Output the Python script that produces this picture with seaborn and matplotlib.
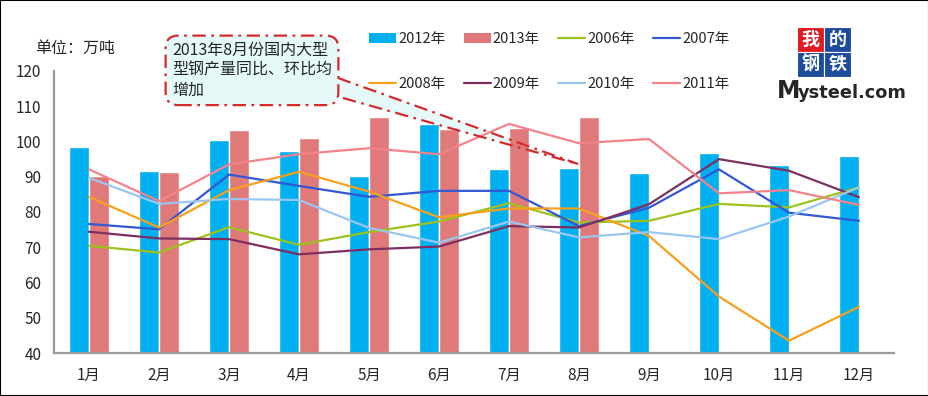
import numpy as np
import pandas as pd
import seaborn as sns
import matplotlib.pyplot as plt
from matplotlib.patches import Patch, Polygon, Rectangle
from matplotlib.lines import Line2D
from matplotlib.transforms import Affine2D

# Monthly output of large section steel, 10k tonnes
months = ['1月', '2月', '3月', '4月', '5月', '6月', '7月', '8月', '9月', '10月', '11月', '12月']
y2012 = [98.5, 91.6, 100.4, 97.3, 90.2, 105.0, 92.2, 92.5, 91.2, 96.7, 93.3, 96.0]
y2013 = [90.2, 91.3, 103.3, 101.1, 107.0, 103.5, 103.7, 107.0]
y2006 = [70.4, 68.5, 75.7, 70.7, 74.3, 77.3, 82.5, 77.0, 77.5, 82.3, 81.3, 87.0]
y2007 = [76.6, 75.1, 90.6, 87.4, 84.3, 86.0, 86.0, 76.0, 81.2, 92.1, 79.8, 77.5]
y2008 = [84.3, 75.6, 86.2, 91.4, 85.8, 78.5, 81.0, 81.0, 73.2, 56.0, 43.5, 53.1]
y2009 = [74.4, 72.5, 72.3, 68.0, 69.4, 70.2, 76.0, 75.6, 82.2, 95.0, 91.7, 84.2]
y2010 = [89.7, 82.3, 83.7, 83.4, 75.5, 71.3, 77.3, 72.8, 74.3, 72.3, 78.7, 87.0]
y2011 = [92.1, 83.1, 93.5, 96.4, 98.1, 96.4, 105.0, 99.5, 100.7, 85.3, 86.2, 82.0]

bar_years = ['2012年', '2013年']
line_years = ['2006年', '2007年', '2008年', '2009年', '2010年', '2011年']
colors = {
    '2012年': '#00B0F0', '2013年': '#E07A7A',
    '2006年': '#9DC21C', '2007年': '#3358D4', '2008年': '#F7A01C',
    '2009年': '#7D2F62', '2010年': '#9CC6F2', '2011年': '#F3838A',
}

bars = pd.concat([
    pd.DataFrame({'x': np.arange(len(y2012)), 'year': '2012年', 'v': y2012}),
    pd.DataFrame({'x': np.arange(len(y2013)), 'year': '2013年', 'v': y2013}),
])
lines = pd.concat([
    pd.DataFrame({'x': np.arange(12), 'year': yr, 'v': vals})
    for yr, vals in zip(line_years, [y2006, y2007, y2008, y2009, y2010, y2011])
])

sns.set_style('white')
plt.rcParams['font.family'] = ['Noto Sans CJK SC', 'DejaVu Sans']

W, H = 929, 396
fig = plt.figure(figsize=(W / 100, H / 100), dpi=100)
# transform: pixel coords measured from the top-left corner
tr = Affine2D().scale(1 / W, -1 / H).translate(0, 1) + fig.transFigure

ax = fig.add_axes([54 / W, 1 - 353 / H, 840 / W, 282 / H])
sns.barplot(data=bars, x='x', y='v', hue='year', hue_order=bar_years,
            palette=colors, width=0.572, gap=0, order=range(12),
            saturation=1, ax=ax, legend=False)
sns.lineplot(data=lines, x='x', y='v', hue='year', hue_order=line_years,
             palette=colors, lw=1.6, ax=ax, legend=False)

ax.set_xlim(-0.5, 11.5)
ax.set_ylim(40, 120)
ax.set_yticks(range(40, 121, 10))
ax.set_xticks(range(12))
ax.set_xticklabels(months)
ax.set_xticks(np.arange(-0.5, 12, 1), minor=True)
ax.set_xlabel('')
ax.set_ylabel('')
gray = '#9A9A9A'
for s in ['top', 'right']:
    ax.spines[s].set_visible(False)
for s in ['left', 'bottom']:
    ax.spines[s].set_color(gray)
    ax.spines[s].set_linewidth(1.6)
ax.tick_params(axis='x', which='major', length=0, pad=10, labelsize=11)
ax.tick_params(axis='x', which='minor', direction='in', length=4, width=1.3, color=gray)
ax.tick_params(axis='y', direction='in', length=4, width=1.3, color=gray, pad=9, labelsize=11)

# unit label
fig.text(35, 48, '单位：万吨', transform=tr, fontsize=11.5, va='center', ha='left')

# legend (column-major fill -> reorder so rows read across)
handles = {}
for yr in bar_years:
    handles[yr] = Patch(facecolor=colors[yr], edgecolor='none')
for yr in line_years:
    handles[yr] = Line2D([], [], color=colors[yr], lw=1.6)
order = ['2012年', '2008年', '2013年', '2009年', '2006年', '2010年', '2007年', '2011年']
fig.legend([handles[k] for k in order], order, ncol=4, frameon=False,
           loc='upper left', bbox_to_anchor=(369, 32), bbox_transform=tr,
           fontsize=10.5, handlelength=1.85, handletextpad=0.15,
           columnspacing=1.25, labelspacing=2.15, borderpad=0, borderaxespad=0)

# callout
red = '#D42A2A'
cyan = '#E6F9F9'
pointer = Polygon([(336, 76), (578, 164), (343, 99)], closed=True, transform=tr,
                  facecolor=cyan, edgecolor='none', clip_on=False, zorder=0.5)
ax.add_patch(pointer)
for (x0, y0) in [(338, 78), (343, 98)]:
    ax.add_line(Line2D([x0, 578], [y0, 164], transform=tr, color=red, lw=1.6,
                       ls=(0, (6, 2.5, 1.2, 2.5)), clip_on=False, zorder=6))
fig.text(172, 42, '2013年8月份国内大型\n型钢产量同比、环比均\n增加', transform=tr,
         fontsize=11.5, ha='left', va='top', linespacing=1.22, zorder=7,
         bbox=dict(boxstyle='round,pad=0.4,rounding_size=0.8', fc=cyan, ec=red,
                   lw=1.6, ls=(0, (6, 2.5, 1.2, 2.5))))

# logo
for (x0, y0, ch, c) in [(797, 27, '我', '#E01B22'), (824, 27, '的', '#1E4C9C'),
                        (797, 52, '钢', '#1E4C9C'), (824, 52, '铁', '#1E4C9C')]:
    fig.add_artist(Rectangle((x0, y0), 27, 25, transform=tr, fc=c, ec='white', lw=0.8))
    fig.text(x0 + 13.5, y0 + 12.5, ch, transform=tr, color='white', fontsize=13,
             fontweight='bold', ha='center', va='center')
fig.text(777, 91, 'M', transform=tr, fontsize=17, fontweight='bold',
         family='DejaVu Sans', ha='left', va='center')
fig.text(798, 93, 'ysteel.com', transform=tr, fontsize=12.8, fontweight='bold',
         family='DejaVu Sans', ha='left', va='center')

# outer border
fig.add_artist(Rectangle((0, 0), 1, 1, transform=fig.transFigure, fill=False,
                         ec='black', lw=1.5))

fig.savefig('out.png', dpi=100)
